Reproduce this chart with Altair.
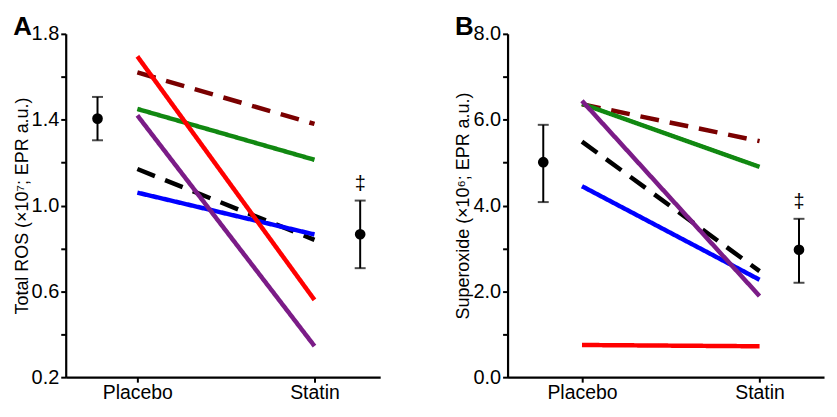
import altair as alt
import pandas as pd

subjects = ["s1", "s2", "s3", "s4", "s5", "s6"]
colors = ["#000000", "#7A0000", "#0000FF", "#118811", "#7B1C87", "#FF0000"]
dashes = [[19, 11], [19, 11], [1, 0], [1, 0], [1, 0], [1, 0]]

conditions = ["Placebo", "Statin"]

ros_placebo = [1.17, 1.62, 1.06, 1.45, 1.42, 1.695]
ros_statin = [0.84, 1.38, 0.865, 1.213, 0.345, 0.56]
sup_placebo = [5.49, 6.36, 4.45, 6.37, 6.44, 0.75]
sup_statin = [2.47, 5.50, 2.27, 4.90, 1.89, 0.72]

ros_mean = [1.405, 0.866]
ros_low = [1.304, 0.708]
ros_high = [1.506, 1.023]
sup_mean = [5.01, 2.97]
sup_low = [4.08, 2.20]
sup_high = [5.88, 3.69]

mean_pos_a = [0.775, 2.258]
mean_pos_b = [0.782, 2.222]
sig_marks = ["", "‡"]

FONT = "Liberation Sans"


def panel(letter, placebo, statin, mean, low, high, mean_pos, ytitle, ydomain, yvalues,
          label_expr, xdomain, width):
    lines = pd.DataFrame(
        [{"subject": s, "pos": 1, "value": p} for s, p in zip(subjects, placebo)]
        + [{"subject": s, "pos": 2, "value": v} for s, v in zip(subjects, statin)]
    )
    summ = pd.DataFrame({"pos": mean_pos, "mean": mean, "low": low, "high": high,
                         "cond": conditions, "sig": sig_marks})

    xscale = alt.Scale(domain=xdomain, nice=False, zero=False)
    yscale = alt.Scale(domain=ydomain, nice=False, zero=False)
    xaxis = alt.Axis(values=[1, 2], labelExpr="datum.value == 1 ? 'Placebo' : 'Statin'",
                     title=None, grid=False, tickSize=5, labelPadding=1, labelFontSize=19.5)
    yaxis = alt.Axis(values=yvalues, labelExpr=label_expr, title=ytitle, grid=False,
                     tickSize=5, labelPadding=2, titlePadding=0)

    line = alt.Chart(lines).mark_line(strokeWidth=4.5, strokeCap="butt").encode(
        x=alt.X("pos:Q", scale=xscale, axis=xaxis),
        y=alt.Y("value:Q", scale=yscale, axis=yaxis),
        color=alt.Color("subject:N", scale=alt.Scale(domain=subjects, range=colors), legend=None),
        strokeDash=alt.StrokeDash("subject:N", scale=alt.Scale(domain=subjects, range=dashes), legend=None),
        detail="subject:N",
    )
    rule = alt.Chart(summ).mark_rule(color="black", strokeWidth=2).encode(
        x=alt.X("pos:Q", scale=xscale), y=alt.Y("low:Q", scale=yscale), y2="high:Q")
    cap_lo = alt.Chart(summ).mark_tick(color="black", thickness=2, size=11, orient="horizontal").encode(
        x=alt.X("pos:Q", scale=xscale), y=alt.Y("low:Q", scale=yscale))
    cap_hi = alt.Chart(summ).mark_tick(color="black", thickness=2, size=11, orient="horizontal").encode(
        x=alt.X("pos:Q", scale=xscale), y=alt.Y("high:Q", scale=yscale))
    dot = alt.Chart(summ).mark_circle(color="black", size=115, opacity=1).encode(
        x=alt.X("pos:Q", scale=xscale), y=alt.Y("mean:Q", scale=yscale))
    sig = alt.Chart(summ).mark_text(font=FONT, fontSize=20, baseline="bottom", dy=-7,
                                    fill="black", color="black").encode(
        x=alt.X("pos:Q", scale=xscale), y=alt.Y("high:Q", scale=yscale), text="sig:N")

    return alt.layer(line, rule, cap_lo, cap_hi, dot, sig).properties(
        width=width, height=345,
        title=alt.TitleParams(letter, anchor="start", frame="bounds", fontSize=26,
                              fontWeight="bold", font=FONT, offset=-16, color="black"),
    )


a = panel("A", ros_placebo, ros_statin, ros_mean, ros_low, ros_high, mean_pos_a,
          "Total ROS (×10⁷; EPR a.u.)", [0.2, 1.8],
          [0.2, 0.4, 0.6, 0.8, 1.0, 1.2, 1.4, 1.6, 1.8],
          "round(datum.value * 10) % 4 == 2 ? format(datum.value, '.1f') : ''",
          [0.5955, 2.371], 316)
b = panel("B", sup_placebo, sup_statin, sup_mean, sup_low, sup_high, mean_pos_b,
          "Superoxide (×10⁶; EPR a.u.)", [0, 8],
          [0, 1, 2, 3, 4, 5, 6, 7, 8],
          "round(datum.value) % 2 == 0 ? format(datum.value, '.1f') : ''",
          [0.581, 2.363], 318)

chart = alt.hconcat(a, b, spacing=75).configure_view(stroke=None).configure_axis(
    domainColor="black", domainWidth=2.2, tickColor="black", tickWidth=2,
    labelColor="black", labelFont=FONT, labelFontSize=20,
    titleFont=FONT, titleFontSize=18, titleFontWeight="normal", titleColor="black",
).configure_concat(spacing=75)

chart.save("out.html", embed_options={"renderer": "svg", "actions": False})
